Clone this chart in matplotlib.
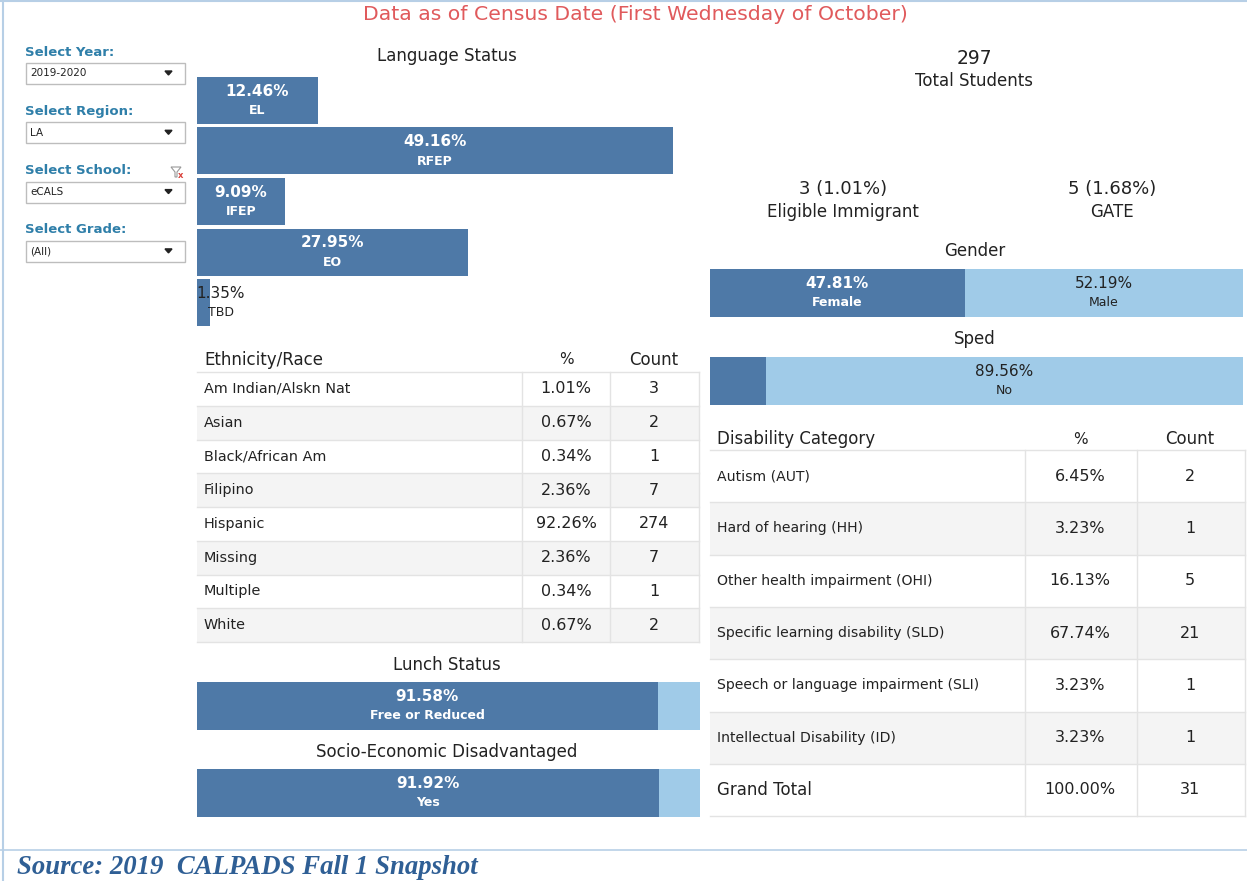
import matplotlib.pyplot as plt
from matplotlib.patches import Rectangle, Polygon

plt.rcParams["font.family"] = ["DejaVu Sans"]

# ---- data ----
filter_labels = ["Select Year:", "Select Region:", "Select School:", "Select Grade:"]
filter_values = ["2019-2020", "LA", "eCALS", "(All)"]

lang_cats = ["EL", "RFEP", "IFEP", "EO", "TBD"]
lang_pct = [12.46, 49.16, 9.09, 27.95, 1.35]

total_students = 297
immigrant_n, immigrant_pct = 3, 1.01
gate_n, gate_pct = 5, 1.68

gender_cats = ["Female", "Male"]
gender_pct = [47.81, 52.19]

sped_cats = ["Yes", "No"]
sped_pct = [10.44, 89.56]

lunch_cats = ["Free or Reduced", "Paid"]
lunch_pct = [91.58, 8.42]

ses_cats = ["Yes", "No"]
ses_pct = [91.92, 8.08]

eth_names = ["Am Indian/Alskn Nat", "Asian", "Black/African Am", "Filipino",
             "Hispanic", "Missing", "Multiple", "White"]
eth_pct = [1.01, 0.67, 0.34, 2.36, 92.26, 2.36, 0.34, 0.67]
eth_count = [3, 2, 1, 7, 274, 7, 1, 2]

dis_names = ["Autism (AUT)", "Hard of hearing (HH)", "Other health impairment (OHI)",
             "Specific learning disability (SLD)", "Speech or language impairment (SLI)",
             "Intellectual Disability (ID)"]
dis_pct = [6.45, 3.23, 16.13, 67.74, 3.23, 3.23]
dis_count = [2, 1, 5, 21, 1, 1]

# ---- style ----
W, H = 1247, 881
DARK = "#4e79a7"
LIGHT = "#a0cbe8"
TXT = "#222222"
GRID = "#e3e3e3"
SHADE = "#f4f4f4"
FRAME = "#b7cfe6"
TEAL = "#2f7fa9"

fig = plt.figure(figsize=(W / 100, H / 100), dpi=100)
bg = fig.add_axes([0, 0, 1, 1])
bg.set_xlim(0, W)
bg.set_ylim(H, 0)
bg.axis("off")


def px_axes(x0, y0, x1, y1):
    ax = fig.add_axes([x0 / W, 1 - y1 / H, (x1 - x0) / W, (y1 - y0) / H])
    ax.axis("off")
    return ax


# frame + title + footer
bg.plot([0, W], [1, 1], color=FRAME, lw=1.5)
bg.plot([2.5, 2.5], [0, H], color=FRAME, lw=1.5)
bg.plot([0, W], [850, 850], color=FRAME, lw=1.2)
bg.text(635, 15, "Data as of Census Date (First Wednesday of October)",
        color="#e05a5c", fontsize=14.7, ha="center", va="center")
bg.text(17, 867, "Source: 2019  CALPADS Fall 1 Snapshot", family="Liberation Serif",
        style="italic", weight="bold", fontsize=19.3, color="#2f5f95", va="center")

# filter panel
for i, (lab, val) in enumerate(zip(filter_labels, filter_values)):
    y = 52 + i * 59.3
    bg.text(25, y, lab, color=TEAL, weight="bold", fontsize=9.5, va="center")
    bg.add_patch(Rectangle((26, y + 11), 159, 21, fc="white", ec="#bdbdbd", lw=1))
    bg.text(30, y + 21.5, val, fontsize=7.5, color=TXT, va="center")
    bg.add_patch(Polygon([[165, y + 19], [172, y + 19], [168.5, y + 23]], color="#222"))
# small funnel icon next to school filter
bg.add_patch(Polygon([[171, 167], [181, 167], [177, 172], [177, 177], [175, 177], [175, 172]],
                     fc="none", ec="#999999", lw=0.8))
bg.text(181, 176, "x", color="#d9413a", fontsize=6, ha="center", va="center", weight="bold")

# language status
bg.text(447, 56, "Language Status", fontsize=12, color=TXT, ha="center", va="center")
ax = px_axes(197, 75, 700, 328)
ypos = range(len(lang_cats))
ax.barh(ypos, lang_pct, height=0.93, color=DARK)
ax.set_xlim(0, 503 * lang_pct[1] / 476)
ax.set_ylim(len(lang_cats) - 0.5, -0.5)
for i, (c, v) in enumerate(zip(lang_cats, lang_pct)):
    if v > 5:
        ax.text(v / 2, i - 0.18, f"{v:.2f}%", color="white", weight="bold",
                fontsize=11, ha="center", va="center")
        ax.text(v / 2, i + 0.2, c, color="white", weight="bold", fontsize=9,
                ha="center", va="center")
    else:
        ax.text(v + 1.13, i - 0.18, f"{v:.2f}%", color=TXT, fontsize=11,
                ha="center", va="center")
        ax.text(v + 1.13, i + 0.2, c, color=TXT, fontsize=9, ha="center", va="center")

# KPIs
bg.text(974, 58, f"{total_students}", fontsize=13.5, color=TXT, ha="center", va="center")
bg.text(974, 81, "Total Students", fontsize=12, color=TXT, ha="center", va="center")
bg.text(843, 189, f"{immigrant_n} ({immigrant_pct:.2f}%)", fontsize=13, color=TXT, ha="center", va="center")
bg.text(843, 212, "Eligible Immigrant", fontsize=12, color=TXT, ha="center", va="center")
bg.text(1112, 189, f"{gate_n} ({gate_pct:.2f}%)", fontsize=13, color=TXT, ha="center", va="center")
bg.text(1112, 212, "GATE", fontsize=12, color=TXT, ha="center", va="center")


def stacked(box, title, title_xy, cats, vals, show):
    bg.text(*title_xy, title, fontsize=12, color=TXT, ha="center", va="center")
    a = px_axes(*box)
    left = 0
    for k, (c, v) in enumerate(zip(cats, vals)):
        col = DARK if k == 0 else LIGHT
        a.barh(0, v, left=left, height=1, color=col)
        if k in show:
            tc = "white" if k == 0 else TXT
            w = "bold" if k == 0 else "normal"
            a.text(left + v / 2, -0.2, f"{v:.2f}%", color=tc, weight=w, fontsize=11,
                   ha="center", va="center")
            a.text(left + v / 2, 0.2, c, color=tc, weight=w, fontsize=9,
                   ha="center", va="center")
        left += v
    a.set_xlim(0, 100)
    a.set_ylim(0.5, -0.5)


stacked((710, 269, 1243, 317), "Gender", (975, 251), gender_cats, gender_pct, [0, 1])
stacked((710, 357, 1243, 405), "Sped", (975, 339), sped_cats, sped_pct, [1])
stacked((197, 682, 700, 730), "Lunch Status", (447, 665), lunch_cats, lunch_pct, [0])
stacked((197, 769, 700, 817), "Socio-Economic Disadvantaged", (447, 752), ses_cats, ses_pct, [0])


def table(x0, x1, c1, c2, top, rowh, header_y, title, names, pcts, counts,
          name_x, pct_x, cnt_x, shade_odd, name_fs):
    bg.text(name_x, header_y, title, fontsize=12, color=TXT, va="center")
    bg.text(pct_x, header_y, "%", fontsize=11, color=TXT, va="center", ha="center")
    bg.text(cnt_x, header_y, "Count", fontsize=12, color=TXT, va="center", ha="center")
    n = len(names)
    for r in range(n):
        y = top + r * rowh
        if r % 2 == shade_odd:
            bg.add_patch(Rectangle((x0, y), x1 - x0, rowh, fc=SHADE, ec="none"))
        bg.plot([x0, x1], [y, y], color=GRID, lw=1)
        fs = name_fs[r] if isinstance(name_fs, list) else name_fs
        bg.text(name_x, y + rowh / 2, names[r], fontsize=fs, color=TXT, va="center")
        bg.text(pct_x, y + rowh / 2, pcts[r], fontsize=11.5, color=TXT, va="center", ha="center")
        bg.text(cnt_x, y + rowh / 2, counts[r], fontsize=11.5, color=TXT, va="center", ha="center")
    bottom = top + n * rowh
    bg.plot([x0, x1], [bottom, bottom], color=GRID, lw=1)
    for xx in (c1, c2, x1):
        bg.plot([xx, xx], [top, bottom], color=GRID, lw=1)


table(197, 699, 522, 610, 372, 33.75, 360, "Ethnicity/Race", eth_names,
      [f"{v:.2f}%" for v in eth_pct], [str(c) for c in eth_count],
      204, 566, 654, 1, 10.4)

dis_total = sum(dis_count)
table(710, 1245, 1025, 1137, 450, 52.3, 439, "Disability Category",
      dis_names + ["Grand Total"],
      [f"{v:.2f}%" for v in dis_pct] + [f"{100 * dis_total / dis_total:.2f}%"],
      [str(c) for c in dis_count] + [str(dis_total)],
      717, 1080, 1190, 1, [10.1] * len(dis_names) + [12])

fig.savefig("out.png", dpi=100)
